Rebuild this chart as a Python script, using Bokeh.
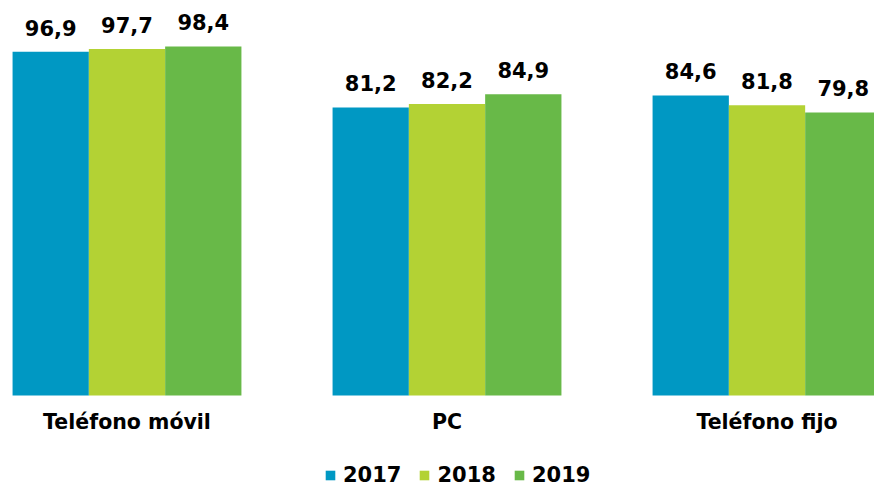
from bokeh.plotting import figure
from bokeh.models import ColumnDataSource, Range1d, Legend, LegendItem
from bokeh.transform import dodge
from bokeh.core.properties import value
from bokeh.embed import file_html
from bokeh.resources import INLINE

categories = ["Teléfono móvil", "PC", "Teléfono fijo"]
years = ["2017", "2018", "2019"]
v2017 = [96.9, 81.2, 84.6]
v2018 = [97.7, 82.2, 81.8]
v2019 = [98.4, 84.9, 79.8]
colors = ["#0098C3", "#B3D234", "#68B948"]

FONT = "DejaVu Sans"
W = 0.2384

xs = list(range(len(categories)))
src = ColumnDataSource(dict(
    x=xs, cat=categories, zero=[0] * len(categories),
    v2017=v2017, v2018=v2018, v2019=v2019,
    l2017=[f"{v:.1f}".replace(".", ",") for v in v2017],
    l2018=[f"{v:.1f}".replace(".", ",") for v in v2018],
    l2019=[f"{v:.1f}".replace(".", ",") for v in v2019],
))

p = figure(width=874, height=487, output_backend="svg", toolbar_location=None,
           x_range=Range1d(-0.3953, 2.3359), y_range=Range1d(-25.94, 111.36),
           min_border_left=0, min_border_right=0, min_border_top=0, min_border_bottom=0)
p.outline_line_color = None
p.background_fill_color = "white"
p.border_fill_color = "white"
p.xgrid.visible = False
p.ygrid.visible = False
p.xaxis.visible = False
p.yaxis.visible = False

items = []
for i, (yr, col) in enumerate(zip(years, colors)):
    off = (i - 1) * W
    r = p.vbar(x=dodge("x", off, range=p.x_range), top="v" + yr, width=W, bottom=0,
               source=src, fill_color=col, line_color=None)
    p.text(x=dodge("x", off, range=p.x_range), y="v" + yr, text="l" + yr, source=src,
           text_align="center", text_baseline="alphabetic", y_offset=-24,
           text_font_size="21px", text_font_style="bold", text_color="black",
           text_font=value(FONT))
    items.append(LegendItem(label=yr, renderers=[r]))

# category labels under the bars
p.text(x="x", y="zero", text="cat", source=src, text_align="center",
       text_baseline="middle", y_offset=27, text_font_size="20.5px",
       text_font_style="bold", text_color="black", text_font=value(FONT))

legend = Legend(items=items, orientation="horizontal", location=(324, 0),
                glyph_width=12, glyph_height=12, label_standoff=7, spacing=17,
                padding=0, margin=0, border_line_color=None,
                background_fill_alpha=0,
                label_text_font=FONT, label_text_font_size="21px",
                label_text_font_style="bold", label_text_color="black")
p.add_layout(legend)

open("out.html", "w").write(file_html(p, INLINE))
